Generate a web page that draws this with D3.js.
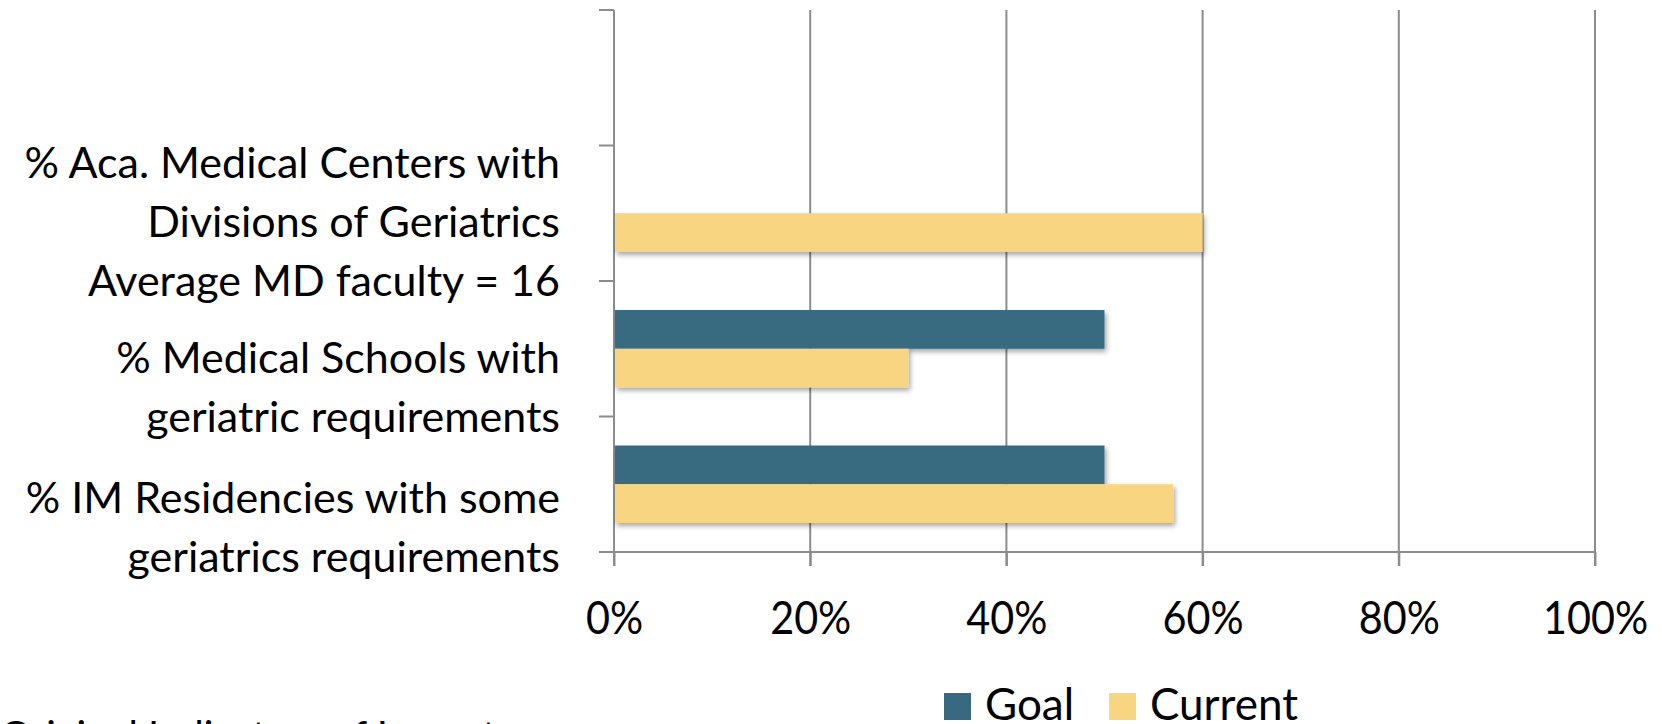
<!DOCTYPE html>
<html>
<head>
<meta charset="utf-8">
<script src="https://cdn.jsdelivr.net/npm/d3@7"></script>
<style>
  body { margin: 0; background: #fff; }
  svg { display: block; font-family: Lato, "Open Sans", sans-serif; }
</style>
</head>
<body>
<div id="chart"></div>
<script>
// Chart data (bottom category first, top band has no data)
var categories = ["im", "schools", "centers", "blank"];
var categoryLines = [
  ["% IM Residencies with some", "geriatrics requirements"],
  ["% Medical Schools with", "geriatric requirements"],
  ["% Aca. Medical Centers with", "Divisions of Geriatrics", "Average MD faculty = 16"],
  []
];
var goalValues = [50, 50, null, null];
var currentValues = [57, 30, 60, null];
var seriesNames = ["Goal", "Current"];
var xTicks = [0, 20, 40, 60, 80, 100];
var footnote = "Original Indicators of Impact";

var colors = { Goal: "#376a80", Current: "#f8d580" };
var gridColor = "#8c8c8c";

// SVG area
var svgWidth = 1662;
var svgHeight = 724;
var chartMargin = { top: 10, right: 67, bottom: 172, left: 614 };
var chartWidth = svgWidth - chartMargin.left - chartMargin.right;
var chartHeight = svgHeight - chartMargin.top - chartMargin.bottom;

var svg = d3.select("#chart")
  .append("svg")
  .attr("width", svgWidth)
  .attr("height", svgHeight);

// soft drop shadow under the bars
var filter = svg.append("defs").append("filter")
  .attr("id", "shadow")
  .attr("x", "-5%").attr("y", "-20%")
  .attr("width", "115%").attr("height", "160%");
filter.append("feDropShadow")
  .attr("dx", 2).attr("dy", 3)
  .attr("stdDeviation", 2.5)
  .attr("flood-color", "#000")
  .attr("flood-opacity", 0.35);

var chartGroup = svg.append("g")
  .attr("transform", `translate(${chartMargin.left}, ${chartMargin.top})`);

// scales
var xScale = d3.scaleLinear()
  .domain([0, 100])
  .range([0, chartWidth]);

var yScale = d3.scaleBand()
  .domain(categories)
  .range([chartHeight, 0])
  .padding(0);

// Excel style: gap width 150%
var innerScale = d3.scaleBand()
  .domain(seriesNames)
  .range([0, yScale.bandwidth()])
  .paddingInner(0)
  .paddingOuter(0.75);

// vertical gridlines
chartGroup.append("g")
  .selectAll("line")
  .data(xTicks.slice(1))
  .enter().append("line")
  .attr("x1", d => xScale(d))
  .attr("x2", d => xScale(d))
  .attr("y1", 0)
  .attr("y2", chartHeight + 14)
  .attr("stroke", gridColor)
  .attr("stroke-width", 2);

// bottom axis
var bottomAxis = d3.axisBottom(xScale)
  .tickValues(xTicks)
  .tickSize(14)
  .tickFormat(d => d + "%");

var xAxisG = chartGroup.append("g")
  .attr("transform", "translate(0, " + chartHeight + ")")
  .call(bottomAxis);
xAxisG.select(".domain").remove();
xAxisG.selectAll("line").attr("stroke", gridColor).attr("stroke-width", 2);
// tall, slightly condensed tick labels like the original
xAxisG.selectAll("text")
  .attr("font-family", "Lato, sans-serif")
  .attr("font-size", 47)
  .attr("fill", "#000")
  .attr("y", 0)
  .attr("dy", 0)
  .attr("transform", "translate(0, 82) scale(0.88, 1)");

chartGroup.append("line")
  .attr("x1", -15).attr("x2", chartWidth)
  .attr("y1", chartHeight).attr("y2", chartHeight)
  .attr("stroke", gridColor).attr("stroke-width", 2);

// left axis line and ticks between categories
chartGroup.append("line")
  .attr("x1", 0).attr("x2", 0)
  .attr("y1", 0).attr("y2", chartHeight + 14)
  .attr("stroke", gridColor).attr("stroke-width", 2);

var bandEdges = categories.map(c => yScale(c)).concat([chartHeight]);
chartGroup.append("g")
  .selectAll("line")
  .data(bandEdges)
  .enter().append("line")
  .attr("x1", -15).attr("x2", 0)
  .attr("y1", d => d).attr("y2", d => d)
  .attr("stroke", gridColor).attr("stroke-width", 2);

// bars
var barData = [];
categories.forEach(function(c, i) {
  barData.push({ cat: c, series: "Goal", value: goalValues[i] });
  barData.push({ cat: c, series: "Current", value: currentValues[i] });
});

chartGroup.append("g")
  .attr("filter", "url(#shadow)")
  .selectAll("rect")
  .data(barData.filter(d => d.value != null))
  .enter().append("rect")
  .attr("x", xScale(0) + 1)
  .attr("y", d => yScale(d.cat) + innerScale(d.series))
  .attr("width", d => xScale(d.value) - xScale(0) - 1)
  .attr("height", innerScale.bandwidth())
  .attr("fill", d => colors[d.series]);

// category labels, right aligned, last line sitting on the band bottom
var lineHeight = 59;
var labelGroup = chartGroup.append("g")
  .attr("font-size", 43)
  .attr("text-anchor", "end")
  .attr("fill", "#000");

categories.forEach(function(c, i) {
  var lines = categoryLines[i];
  var bottom = yScale(c) + yScale.bandwidth() + (i === 0 ? 5 : 0);
  lines.forEach(function(line, j) {
    labelGroup.append("text")
      .attr("x", -54)
      .attr("y", bottom - (lines.length - 1 - j) * lineHeight)
      .attr("dy", "0.35em")
      .text(line);
  });
});

// legend
var legend = svg.append("g")
  .attr("transform", "translate(944, 693)");
var legendX = [0, 165];
seriesNames.forEach(function(name, i) {
  legend.append("rect")
    .attr("x", legendX[i]).attr("y", 0)
    .attr("width", 27).attr("height", 27)
    .attr("fill", colors[name]);
  legend.append("text")
    .attr("x", legendX[i] + 41)
    .attr("y", 27)
    .attr("font-size", 44)
    .text(name);
});

// footnote, mostly below the visible area
svg.append("text")
  .attr("x", 0)
  .attr("y", 750)
  .attr("font-size", 40)
  .text(footnote);
</script>
</body>
</html>
